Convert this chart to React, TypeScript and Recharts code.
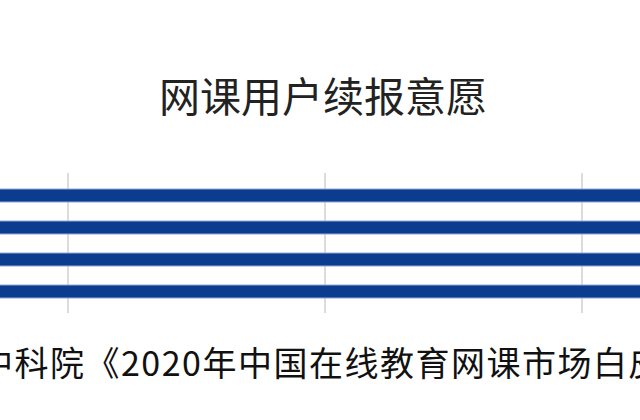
import React from "react";
import { BarChart, Bar, XAxis, YAxis, CartesianGrid } from "recharts";

const categories = ["小学", "初中", "高中", "大学"];
const values = [74, 71, 77, 72];
const xTicks = [0, 20, 40, 60, 80, 100];
const title = "网课用户续报意愿";
const source = "中科院《2020年中国在线教育网课市场白皮书》";

const data = categories.map((c, i) => ({ name: c, value: values[i] }));

export default function App() {
  return (
    <div
      style={{
        position: "absolute",
        left: 0,
        top: 0,
        width: 640,
        height: 420,
        overflow: "hidden",
        background: "#ffffff",
        fontFamily: '"Noto Sans CJK SC", "Noto Sans", sans-serif',
      }}
    >
      <div style={{ position: "absolute", left: -189, top: 0 }}>
        <BarChart
          width={1305}
          height={420}
          data={data}
          layout="vertical"
          margin={{ top: 173, bottom: 107, left: 0, right: 20 }}
        >
          <CartesianGrid horizontal={false} stroke="#dcdcdc" strokeWidth={2} />
          <XAxis type="number" domain={[0, 100]} ticks={xTicks} hide />
          <YAxis
            type="category"
            dataKey="name"
            hide
            padding={{ top: 6, bottom: 6 }}
          />
          <Bar
            dataKey="value"
            fill="#0b3c8f"
            stroke="#8ea8d6"
            strokeWidth={1}
            barSize={13}
            isAnimationActive={false}
          />
        </BarChart>
      </div>
      <div
        style={{
          position: "absolute",
          left: 0,
          top: 74,
          width: 646,
          textAlign: "center",
          fontSize: 41,
          lineHeight: "41px",
          color: "#222222",
          whiteSpace: "nowrap",
        }}
      >
        {title}
      </div>
      <div
        style={{
          position: "absolute",
          left: -21,
          top: 345,
          fontSize: 34,
          lineHeight: "34px",
          letterSpacing: 1.5,
          color: "#111111",
          whiteSpace: "nowrap",
        }}
      >
        {source}
      </div>
    </div>
  );
}
